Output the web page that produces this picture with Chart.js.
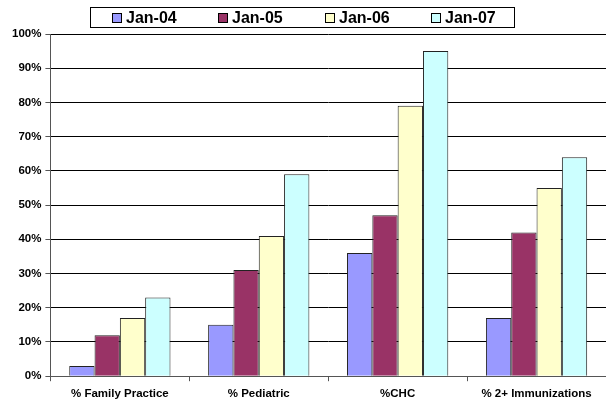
<!DOCTYPE html>
<html>
<head>
<meta charset="utf-8">
<script src="https://cdn.jsdelivr.net/npm/chart.js@4.4.0/dist/chart.umd.min.js"></script>
<style>
  body { margin: 0; background: #fff; }
  canvas { display: block; }
</style>
</head>
<body>
<canvas id="bar-chart" width="606" height="400"></canvas>
<script>
// Категории и значения серий (в процентах)
const categories = ['% Family Practice', '% Pediatric', '%CHC', '% 2+ Immunizations'];
const seriesNames = ['Jan-04', 'Jan-05', 'Jan-06', 'Jan-07'];
const jan04 = [3, 15, 36, 17];
const jan05 = [12, 31, 47, 42];
const jan06 = [17, 41, 79, 55];
const jan07 = [23, 59, 95, 64];
const colors = ['#9999FF', '#993366', '#FFFFCC', '#CCFFFF'];

const FONT = 'Arial, "Liberation Sans", sans-serif';

// Рамка легенды рисуется вручную, как в Excel
const boxLegend = {
	id: 'boxLegend',
	afterDraw(chart) {
		const ctx = chart.ctx;
		ctx.save();
		ctx.strokeStyle = '#000';
		ctx.lineWidth = 1;
		ctx.strokeRect(90.5, 7.5, 424, 20);
		ctx.font = 'bold 16px ' + FONT;
		ctx.textBaseline = 'middle';
		ctx.textAlign = 'left';
		chart.data.datasets.forEach((ds, i) => {
			const x = Math.round(112 + i * 106.3);
			ctx.fillStyle = ds.backgroundColor;
			ctx.fillRect(x + 0.5, 13.5, 9, 9);
			ctx.strokeStyle = '#000';
			ctx.strokeRect(x + 0.5, 13.5, 9, 9);
			ctx.fillStyle = '#000';
			ctx.fillText(ds.label, x + 14, 18.5);
		});
		ctx.restore();
	}
};

const dataBars = {
	labels: categories,
	datasets: [jan04, jan05, jan06, jan07].map((arr, i) => ({
		label: seriesNames[i],
		data: arr,
		backgroundColor: colors[i],
		borderColor: '#222',
		borderWidth: 1,
		categoryPercentage: 0.729,
		barPercentage: 1
	}))
};

new Chart(document.getElementById('bar-chart'), {
	type: 'bar',
	data: dataBars,
	options: {
		responsive: false,
		animation: false,
		layout: { padding: { top: 34, right: -6, left: 8, bottom: -7 } },
		plugins: {
			legend: { display: false },
			tooltip: { enabled: false }
		},
		scales: {
			x: {
				grid: {
					offset: true,
					drawOnChartArea: false,
					drawTicks: true,
					tickLength: 5,
					color: '#555'
				},
				border: { color: '#555' },
				ticks: {
					autoSkip: false,
					color: '#000',
					font: { family: FONT, size: 11.5, weight: 'bold' },
					padding: 6,
					maxRotation: 0
				}
			},
			y: {
				min: 0,
				max: 100,
				grid: {
					color: '#000',
					tickLength: 5,
					tickColor: '#555'
				},
				border: { color: '#555' },
				ticks: {
					stepSize: 10,
					color: '#000',
					padding: 4,
					font: { family: FONT, size: 11.5, weight: 'bold' },
					callback: v => v + '%'
				}
			}
		}
	},
	plugins: [boxLegend]
});
</script>
</body>
</html>
